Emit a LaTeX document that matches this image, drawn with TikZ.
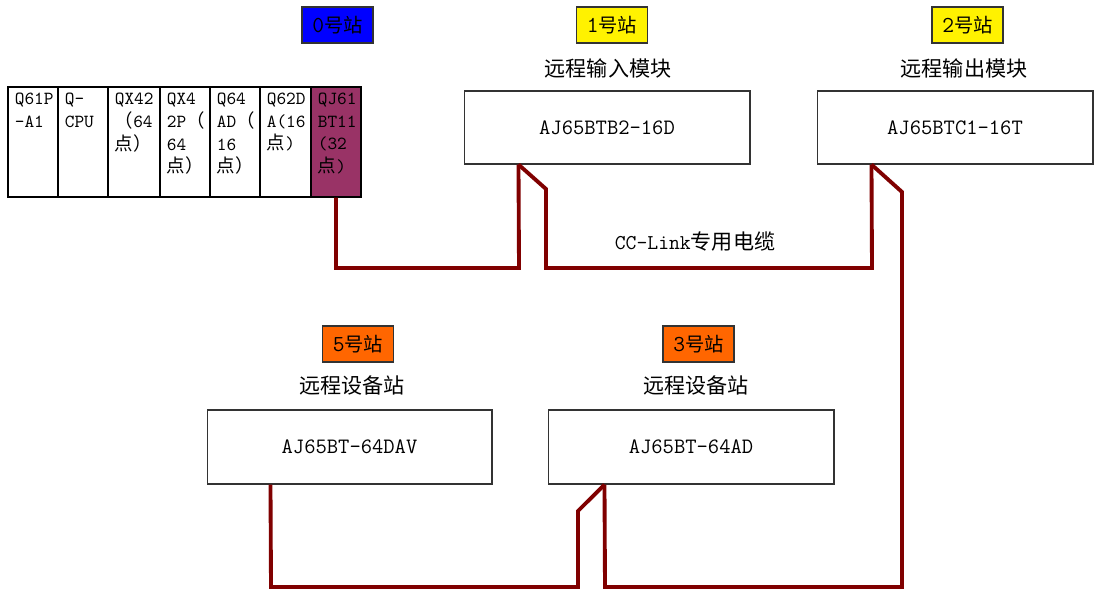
\documentclass[tikz,border=0pt]{standalone}
\usepackage{fontspec}
\usepackage{tikz}
\newfontfamily\cjk{Noto Sans CJK SC}
\newcommand\hanzi[1]{{\cjk #1}}
\definecolor{cablered}{HTML}{800000}
\definecolor{slotred}{HTML}{993366}
\definecolor{tagorange}{HTML}{FF6600}

\begin{document}
\begin{tikzpicture}[x=0.02cm, y=0.02cm,
	cable/.style={draw=cablered, line width=2.2pt},
	module/.style={draw=black!80, line width=0.6pt, minimum width=5.72cm, minimum height=1.46cm, font=\fontsize{12.5}{14}\selectfont\ttfamily},
	tag/.style={draw=black!80, line width=0.6pt, minimum width=1.42cm, minimum height=0.72cm, font=\fontsize{13}{14}\selectfont\ttfamily},
	caption/.style={font=\fontsize{12}{14}\selectfont\cjk},
	slot/.style={draw=black, line width=0.6pt, minimum height=2.2cm},
	slottext/.style={anchor=north west, align=left, font=\fontsize{10.5}{13}\selectfont\ttfamily}]
							\tikzstyle{every node}+=[inner sep=0pt]
							\useasboundingbox (0,0) rectangle (1096,-589);
							% rack of station 0
							\foreach \cx/\w/\n/\c in {33/1.0/1/white, 83/1.0/2/white, 134/1.04/3/white, 185/1.0/4/white, 235/1.0/5/white, 285.5/1.02/6/white, 336/1.0/7/slotred}
								\node [slot, minimum width=\w cm, fill=\c] (s\n) at (\cx,-142) {};
							\node [slottext] (t1) at ([xshift=0.14cm,yshift=-0.12cm]s1.north west) {Q61P\\-A1};
							\node [slottext] (t2) at ([xshift=0.14cm,yshift=-0.12cm]s2.north west) {Q-\\CPU};
							\node [slottext] (t3) at ([xshift=0.14cm,yshift=-0.12cm]s3.north west) {QX42\\\hanzi{（}64\\\hanzi{点）}};
							\node [slottext] (t4) at ([xshift=0.14cm,yshift=-0.12cm]s4.north west) {QX4\\2P\hanzi{（}\\64\\\hanzi{点）}};
							\node [slottext] (t5) at ([xshift=0.14cm,yshift=-0.12cm]s5.north west) {Q64\\AD\hanzi{（}\\16\\\hanzi{点）}};
							\node [slottext] (t6) at ([xshift=0.14cm,yshift=-0.12cm]s6.north west) {Q62D\\A(16\\\hanzi{点})};
							\node [slottext] (t7) at ([xshift=0.14cm,yshift=-0.12cm]s7.north west) {QJ61\\BT11\\(32\\\hanzi{点})};
							% station tags
							\node [tag, fill=blue] (tag0) at (337.5,-25) {0\hanzi{\fontsize{11}{13}\selectfont 号站}};
							\node [tag, fill=yellow] (tag1) at (612,-25) {1\hanzi{\fontsize{11}{13}\selectfont 号站}};
							\node [tag, fill=yellow] (tag2) at (967.5,-25) {2\hanzi{\fontsize{11}{13}\selectfont 号站}};
							\node [tag, fill=tagorange] (tag5) at (358,-344) {5\hanzi{\fontsize{11}{13}\selectfont 号站}};
							\node [tag, fill=tagorange] (tag3) at (698.5,-344) {3\hanzi{\fontsize{11}{13}\selectfont 号站}};
							% captions
							\node [caption] (cap1) at (608,-68) {远程输入模块};
							\node [caption] (cap2) at (964,-68) {远程输出模块};
							\node [caption] (cap5) at (352,-385) {远程设备站};
							\node [caption] (cap3) at (696,-385) {远程设备站};
							% remote modules
							\node [module] (st1) at (607,-127.5) {AJ65BTB2-16D};
							\node [module, minimum width=5.52cm] (st2) at (955,-127.5) {AJ65BTC1-16T};
							\node [module, minimum width=5.7cm, minimum height=1.48cm] (st5) at (349.5,-447) {AJ65BT-64DAV};
							\node [module, minimum height=1.48cm] (st3) at (691,-447) {AJ65BT-64AD};
							\coordinate (tap1) at ([xshift=1.1cm]st1.south west);
							\coordinate (tap2) at ([xshift=1.1cm]st2.south west);
							\coordinate (tap3) at ([xshift=1.14cm]st3.south west);
							\coordinate (tap5) at ([xshift=1.28cm]st5.south west);
							% CC-Link cable
							\draw [cable] (s7.south) -- (336,-268) -- (519,-268) -- (tap1);
							\draw [cable] (tap1) -- (546,-189) -- (546,-268) -- (872,-268) -- (tap2);
							\draw [cable] (tap2) -- (902,-192) -- (902,-587) -- (605,-587) -- (tap3);
							\draw [cable] (tap3) -- (578,-511) -- (578,-587) -- (271,-587) -- (tap5);
							\node [caption] (cablelbl) at (695,-242) {{\ttfamily CC-Link}专用电缆};
						\end{tikzpicture}
\end{document}
